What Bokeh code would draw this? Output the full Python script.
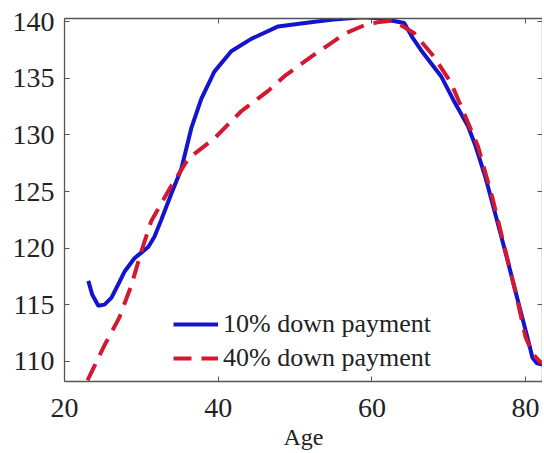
from bokeh.plotting import figure
from bokeh.models import LinearAxis, Legend, LegendItem, Range1d, FixedTicker
from bokeh.embed import file_html
from bokeh.resources import INLINE

# Data
age_10 = [23.1, 23.6, 24.4, 25.2, 26.1, 27.0, 27.8, 29.1, 30.0, 30.9, 31.7, 32.6, 33.9,
          35.2, 36.5, 37.8, 39.5, 41.7, 44.3, 47.8, 52.3, 55.0, 58.8, 61.2, 62.7, 64.2,
          65.2, 66.4, 69.0, 70.6, 72.5, 73.5, 74.8, 76.1, 77.0, 78.0, 79.2, 80.2, 80.9,
          81.5, 82.2]
val_10 = [117.1, 115.9, 114.9, 115.0, 115.6, 116.8, 117.9, 119.1, 119.6, 120.1, 121.0,
          122.5, 124.8, 127.0, 130.6, 133.2, 135.6, 137.4, 138.5, 139.6, 140.0, 140.2,
          140.4, 140.3, 140.1, 139.9, 138.7, 137.5, 135.2, 133.1, 130.8, 129.0, 126.2,
          122.9, 120.6, 118.0, 114.8, 112.2, 110.3, 109.8, 109.7]

age_40 = [23.0, 25.2, 27.1, 28.7, 30.0, 31.3, 33.9, 36.1, 39.5, 43.0, 46.5, 48.8, 52.7,
          56.6, 59.0, 61.0, 62.5, 63.6, 65.5, 68.1, 70.3, 72.0, 73.8, 75.7, 77.4, 78.8,
          80.0, 81.0, 81.8, 82.2]
val_40 = [108.3, 111.4, 113.8, 116.7, 119.7, 122.4, 125.5, 127.9, 129.7, 132.1, 133.9,
          135.3, 137.2, 139.0, 139.7, 140.0, 140.1, 139.8, 139.0, 136.9, 134.6, 131.9,
          129.0, 124.4, 119.7, 115.8, 112.1, 110.6, 110.0, 109.8]

x_ticks = [20, 40, 60, 80]
y_ticks = [110, 115, 120, 125, 130, 135, 140]
series_labels = ["10% down payment", "40% down payment"]

FONT = "Liberation Serif"
AXIS_COLOR = "#555555"
TEXT_COLOR = "#222222"

p = figure(frame_width=478, frame_height=363,
           x_range=Range1d(20, 82.2), y_range=Range1d(108.2, 140.3),
           output_backend="svg", toolbar_location=None,
           min_border_left=64, min_border_top=18, min_border_right=0, min_border_bottom=0,
           x_axis_label="Age")
p.grid.visible = False
p.outline_line_color = None
p.background_fill_color = "white"

for ax, ticks in ((p.xaxis[0], x_ticks), (p.yaxis[0], y_ticks)):
    ax.ticker = FixedTicker(ticks=ticks)
    ax.major_label_text_font = FONT
    ax.major_label_text_font_size = "28px"
    ax.major_label_text_color = TEXT_COLOR
    ax.major_tick_in = 5
    ax.major_tick_out = 0
    ax.minor_tick_line_color = None
    ax.axis_line_color = AXIS_COLOR
    ax.axis_line_width = 1.3
    ax.major_tick_line_color = AXIS_COLOR

p.xaxis.major_label_standoff = 17
p.yaxis.major_label_standoff = 10
p.xaxis.axis_label_text_font = FONT
p.xaxis.axis_label_text_font_size = "24px"
p.xaxis.axis_label_text_font_style = "normal"
p.xaxis.axis_label_text_color = TEXT_COLOR
p.xaxis.axis_label_standoff = 4

for ticks, side in ((x_ticks, "above"), (y_ticks, "right")):
    ax = LinearAxis(ticker=FixedTicker(ticks=ticks),
                    major_label_overrides={t: "" for t in ticks},
                    major_label_standoff=0,
                    major_tick_in=5, major_tick_out=0,
                    minor_tick_line_color=None,
                    axis_line_color=AXIS_COLOR, axis_line_width=1.3,
                    major_tick_line_color=AXIS_COLOR)
    p.add_layout(ax, side)

r10 = p.line(age_10, val_10, line_color="#1414CC", line_width=4)
r40 = p.line(age_40, val_40, line_color="#D41830", line_width=4, line_dash="18 10")

legend = Legend(items=[LegendItem(label=series_labels[0], renderers=[r10]),
                       LegendItem(label=series_labels[1], renderers=[r40])],
                location=(109, 8), background_fill_alpha=0, border_line_color=None,
                label_text_font=FONT, label_text_font_size="26px",
                label_text_color=TEXT_COLOR,
                glyph_width=45, glyph_height=26, label_height=26, spacing=4,
                padding=0, margin=0, label_standoff=5)
p.add_layout(legend)

open("out.html", "w").write(file_html(p, INLINE))
